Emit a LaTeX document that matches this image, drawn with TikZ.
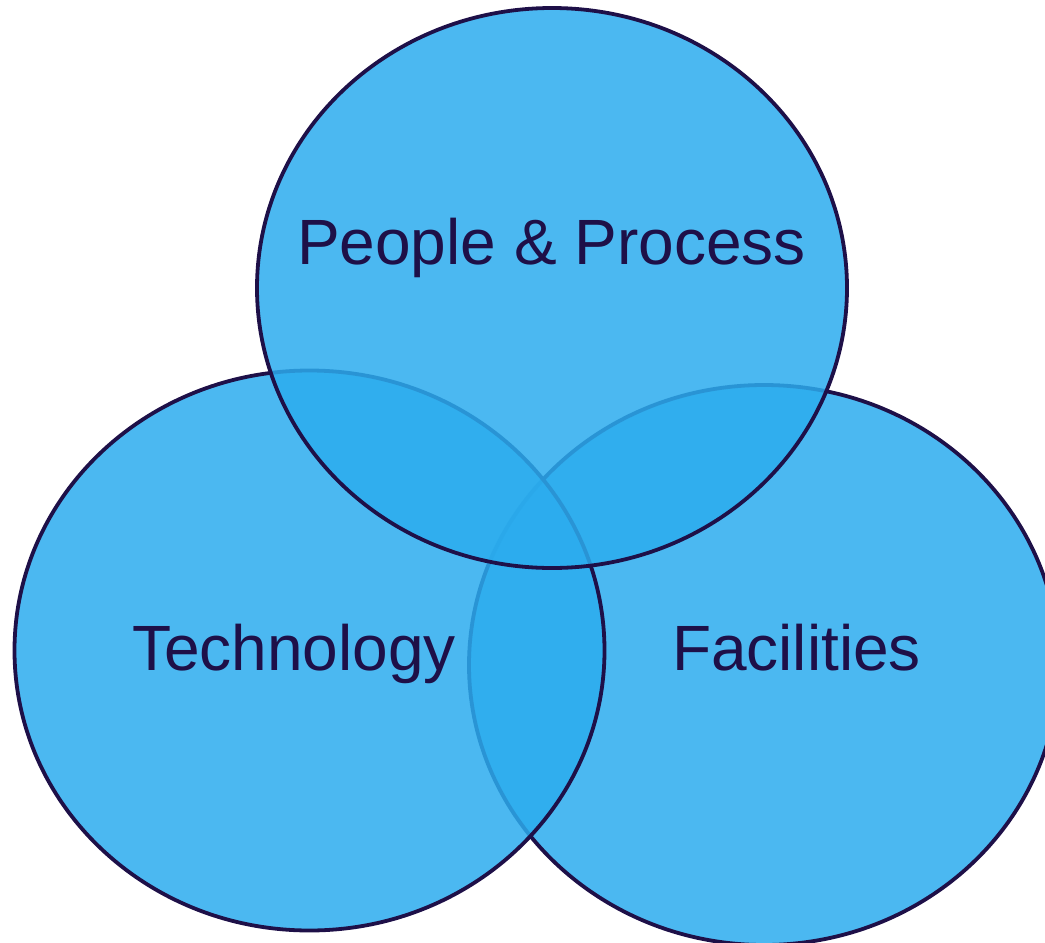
\documentclass[tikz,border=0pt]{standalone}
\usepackage{fontspec}
\setmainfont{Liberation Sans}
\usetikzlibrary{shapes.geometric}
\definecolor{vennfill}{RGB}{43,172,238}
\definecolor{vennline}{RGB}{30,16,72}
\tikzset{
  venn/.style={ellipse, draw=vennline, line width=3.8pt, fill=vennfill,
    fill opacity=0.85, draw opacity=1, text opacity=1,
    minimum width=590pt, minimum height=560pt, inner sep=0pt},
  vennlabel/.style={anchor=base, text=vennline, inner sep=0pt,
    font=\fontsize{64}{70}\selectfont}
}
\begin{document}
\begin{tikzpicture}[x=1pt, y=-1pt]
  \useasboundingbox (0,0) rectangle (1045,943);
  \clip (0,0) rectangle (1045,943);
  % three overlapping sets, drawn back to front
  \node[venn] (facilities) at (764,665) {};
  \node[venn] (technology) at (309.5,650.5) {};
  \node[venn] (people) at (552,288) {};
  % set labels
  \node[vennlabel] (peopleText) at (551.5,264) {People \& Process};
  \node[vennlabel] (techText) at (294,670.5) {Technology};
  \node[vennlabel] (facText) at (796.5,670.5) {Facilities};
\end{tikzpicture}
\end{document}
